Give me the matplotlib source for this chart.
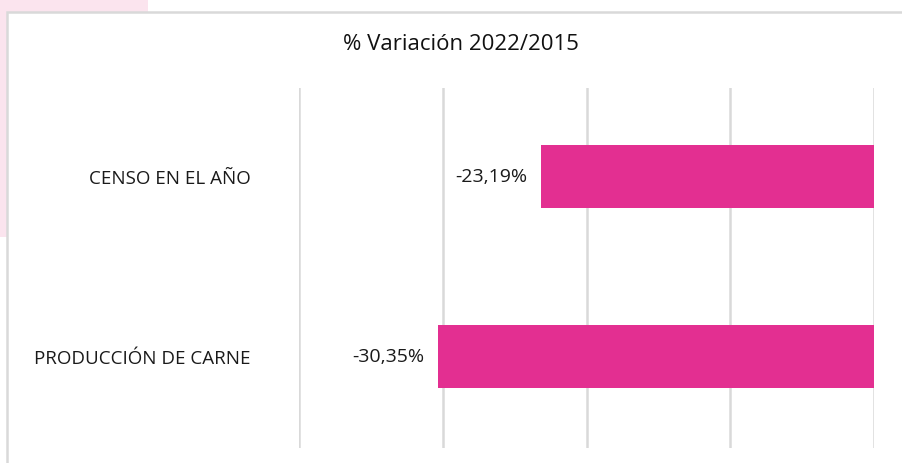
import matplotlib
matplotlib.use("Agg")
import matplotlib.pyplot as plt
from matplotlib.patches import Rectangle

categories = ["PRODUCCIÓN DE CARNE", "CENSO EN EL AÑO"]
values = [-30.35, -23.19]
labels = ["-30,35%", "-23,19%"]
title = "% Variación 2022/2015"

W, H = 903, 463
fig = plt.figure(figsize=(W / 100, H / 100), dpi=100)
fig.patch.set_facecolor("white")
plt.rcParams["font.family"] = ["Open Sans", "DejaVu Sans"]

# pink background behind the chart frame
fig.patches.append(Rectangle((0, 1 - 237 / H), 148 / W, 237 / H, transform=fig.transFigure,
                             facecolor="#fbe4ee", edgecolor="none", zorder=0))
# chart frame
fig.patches.append(Rectangle((7 / W, -0.1), 1.2, 1 - 12.5 / H + 0.1, transform=fig.transFigure,
                             facecolor="white", edgecolor="#d9d9d9", linewidth=1.8, zorder=1))

ax = fig.add_axes([299 / W, 1 - 448 / H, (874 - 299) / W, (448 - 88) / H])
ax.set_facecolor("none")
ax.set_zorder(2)
y = list(range(len(categories)))
ax.barh(y, values, height=0.35, color="#e32f91", zorder=3)
ax.set_xlim(-40, 0)
ax.set_ylim(-0.508, 1.492)
ax.set_xticks([-40, -30, -20, -10, 0])
ax.xaxis.grid(True, color="#d9d9d9", linewidth=1.8)
ax.tick_params(axis="x", length=0, labelbottom=False)
ax.tick_params(axis="y", length=0, pad=35, labelsize=13.5, labelcolor="#1a1a1a")
ax.set_yticks(y)
ax.set_yticklabels(categories)
for s in ax.spines.values():
    s.set_visible(False)
for yi, v, lab in zip(y, values, labels):
    ax.annotate(lab, (v, yi), xytext=(-13, 0), textcoords="offset pixels",
                ha="right", va="center", fontsize=14, color="#1a1a1a")

fig.text(461 / W, 1 - 45 / H, title, ha="center", va="center", fontsize=16, color="#111111")

fig.savefig("out.png", dpi=100, facecolor=fig.get_facecolor())
